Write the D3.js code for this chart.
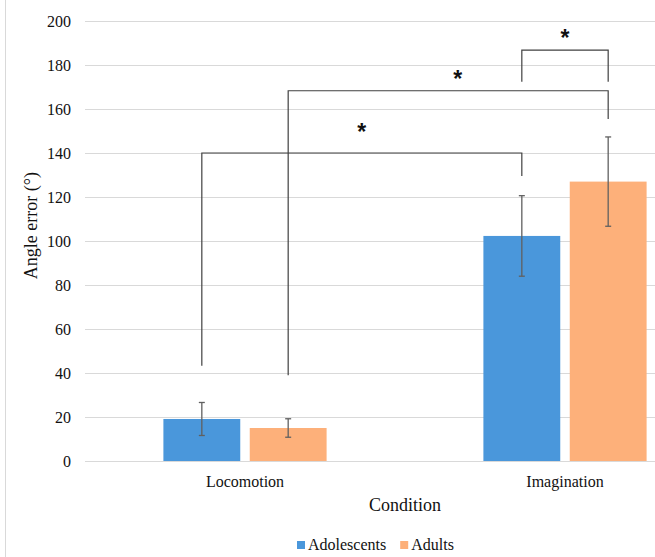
<!DOCTYPE html>
<html>
<head>
<meta charset="utf-8">
<script src="https://cdn.jsdelivr.net/npm/d3@7"></script>
<style>
  body { margin: 0; background: #fff; }
  svg { display: block; }
  text { font-family: "Liberation Serif", "Times New Roman", serif; }
</style>
</head>
<body>
<div id="chart"></div>
<script>
const categories = ["Locomotion", "Imagination"];
const seriesNames = ["Adolescents", "Adults"];
const seriesColours = ["#4a97db", "#fdb07a"];
// mean angle error per category, one array per series
const adolescentMeans = [19.1, 102.3];
const adultMeans = [15.0, 127.0];
const adolescentErrors = [7.5, 18.3];
const adultErrors = [4.2, 20.3];
const yTicks = [0, 20, 40, 60, 80, 100, 120, 140, 160, 180, 200];

// significance brackets: ends refer to [category, series], heights in axis units
const brackets = [
  { from: [0, 0], to: [1, 0], top: 140, fromLeg: 43.3, toLeg: 129.5, star: 150.5 },
  { from: [0, 1], to: [1, 1], top: 168.3, fromLeg: 39, toLeg: 155.5, star: 174.7, starAt: 0.53 },
  { from: [1, 0], to: [1, 1], top: 186.8, fromLeg: 172.4, toLeg: 172.4, star: 193.3 },
];

const SERIF = '"Liberation Serif", "Times New Roman", serif';

const width = 655;
const height = 557;
const margin = { top: 21, left: 85, bottom: 96 };
const plotRight = 725; // plot area runs past the right edge of the picture

const svg = d3.select("#chart")
  .append("svg")
  .attr("width", width)
  .attr("height", height)
  .style("font-family", SERIF);

svg.append("rect").attr("width", width).attr("height", height).attr("fill", "#fff");

// chart frame edge
svg.append("line")
  .attr("x1", 5.5).attr("x2", 5.5)
  .attr("y1", 0).attr("y2", height)
  .attr("stroke", "#d9d9d9")
  .attr("stroke-width", 1);

const x0 = d3.scaleBand()
  .domain(categories)
  .range([margin.left, plotRight])
  .paddingInner(0.49)
  .paddingOuter(0.245);

const x1 = d3.scaleBand()
  .domain(seriesNames)
  .range([0, x0.bandwidth()])
  .paddingInner(0.11);

const y = d3.scaleLinear()
  .domain([0, 200])
  .range([height - margin.bottom, margin.top]);

// grid
svg.append("g")
  .selectAll("line")
  .data(yTicks)
  .join("line")
  .attr("x1", margin.left)
  .attr("x2", plotRight)
  .attr("y1", (d) => Math.round(y(d)) + 0.5)
  .attr("y2", (d) => Math.round(y(d)) + 0.5)
  .attr("stroke", "#d9d9d9")
  .attr("stroke-width", 1);

const yAxis = svg.append("g")
  .attr("transform", `translate(${margin.left - 14},0)`)
  .call(d3.axisLeft(y).tickValues(yTicks).tickSize(0).tickPadding(0))
  .attr("font-family", null);
yAxis.select(".domain").remove();
yAxis.selectAll("text")
  .style("font-family", SERIF)
  .style("font-size", "16px")
  .attr("fill", "#111");

svg.append("text")
  .attr("transform", `translate(37,${y(107)}) rotate(-90)`)
  .attr("text-anchor", "middle")
  .style("font-family", SERIF)
  .style("font-size", "18px")
  .attr("fill", "#111")
  .text("Angle error (°)");

const series = [
  { name: seriesNames[0], means: adolescentMeans, errors: adolescentErrors, colour: seriesColours[0] },
  { name: seriesNames[1], means: adultMeans, errors: adultErrors, colour: seriesColours[1] },
];

const bars = [];
series.forEach((s) => {
  categories.forEach((c, i) => {
    bars.push({ cat: c, series: s.name, value: s.means[i], err: s.errors[i], colour: s.colour });
  });
});

const barX = (d) => x0(d.cat) + x1(d.series);
const barCenter = (ci, si) => x0(categories[ci]) + x1(seriesNames[si]) + x1.bandwidth() / 2;

svg.append("g")
  .selectAll("rect")
  .data(bars)
  .join("rect")
  .attr("x", barX)
  .attr("y", (d) => y(d.value))
  .attr("width", x1.bandwidth())
  .attr("height", (d) => y(0) - y(d.value))
  .attr("fill", (d) => d.colour);

// error bars
const errG = svg.append("g")
  .attr("stroke", "#606060")
  .attr("stroke-width", 1.3)
  .attr("fill", "none");
bars.forEach((d) => {
  const cx = barX(d) + x1.bandwidth() / 2;
  const yHi = y(d.value + d.err);
  const yLo = y(d.value - d.err);
  errG.append("line").attr("x1", cx).attr("x2", cx).attr("y1", yHi).attr("y2", yLo);
  errG.append("line").attr("x1", cx - 3).attr("x2", cx + 3).attr("y1", yHi).attr("y2", yHi);
  errG.append("line").attr("x1", cx - 3).attr("x2", cx + 3).attr("y1", yLo).attr("y2", yLo);
});

// significance brackets
const brG = svg.append("g");
brackets.forEach((b) => {
  const xa = barCenter(b.from[0], b.from[1]);
  const xb = barCenter(b.to[0], b.to[1]);
  const path = d3.path();
  path.moveTo(xa, y(b.fromLeg));
  path.lineTo(xa, y(b.top));
  path.lineTo(xb, y(b.top));
  path.lineTo(xb, y(b.toLeg));
  brG.append("path")
    .attr("d", path.toString())
    .attr("fill", "none")
    .attr("stroke", "#404040")
    .attr("stroke-width", 1.2);
  const t = b.starAt ?? 0.5;
  brG.append("text")
    .attr("x", xa + (xb - xa) * t)
    .attr("y", y(b.star) + 10.5)
    .attr("text-anchor", "middle")
    .style("font-family", '"Liberation Sans", Arial, sans-serif')
    .style("font-weight", "bold")
    .style("font-size", "23px")
    .attr("fill", "#111")
    .text("*");
});

// category labels
svg.append("g")
  .selectAll("text")
  .data(categories)
  .join("text")
  .attr("x", (d) => x0(d) + x0.bandwidth() / 2)
  .attr("y", 487)
  .attr("text-anchor", "middle")
  .style("font-family", SERIF)
  .style("font-size", "16px")
  .attr("fill", "#111")
  .text((d) => d);

svg.append("text")
  .attr("x", (margin.left + plotRight) / 2)
  .attr("y", 511)
  .attr("text-anchor", "middle")
  .style("font-family", SERIF)
  .style("font-size", "18px")
  .attr("fill", "#111")
  .text("Condition");

// legend
const legend = svg.append("g").attr("transform", "translate(297,541)");
let lx = 0;
series.forEach((s) => {
  const item = legend.append("g").attr("transform", `translate(${lx},0)`);
  item.append("rect").attr("width", 8).attr("height", 8).attr("fill", s.colour);
  const txt = item.append("text")
    .attr("x", 11)
    .attr("y", 9)
    .style("font-family", SERIF)
    .style("font-size", "16px")
    .attr("fill", "#111")
    .text(s.name);
  lx += 11 + txt.node().getComputedTextLength() + 14;
});
</script>
</body>
</html>
